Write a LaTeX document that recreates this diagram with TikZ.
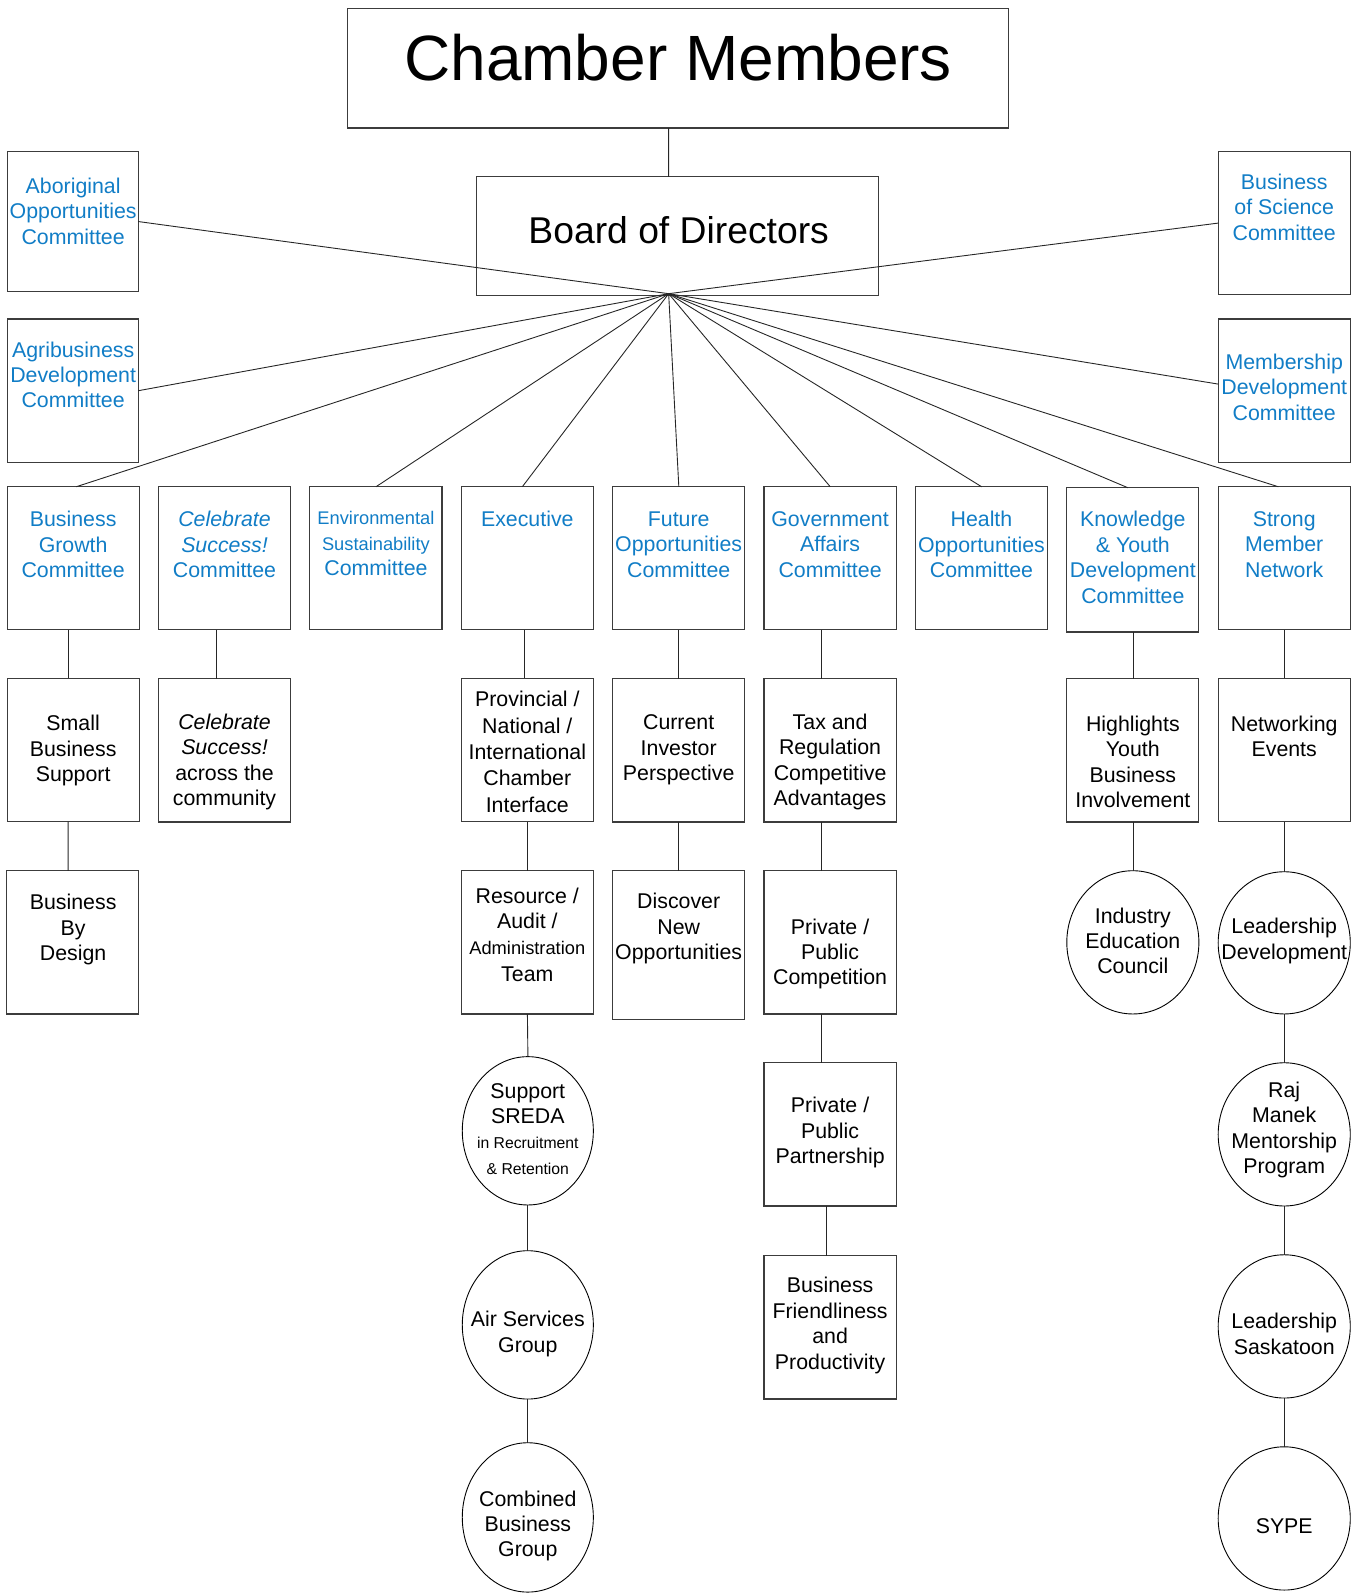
\documentclass[tikz,border=0pt]{standalone}
\usepackage{fontspec}
\setmainfont{Liberation Sans}
\usetikzlibrary{shapes.geometric}
\definecolor{cblue}{RGB}{17,125,198}
\definecolor{bord}{RGB}{60,60,60}
\tikzset{
 box/.style={draw=bord, line width=1.1pt, minimum width=130, minimum height=141, inner sep=0, outer sep=0},
 oval/.style={ellipse, draw=black, line width=0.9pt, minimum width=130, minimum height=141, inner sep=0, outer sep=0},
 lbl/.style={align=center, font=\fontsize{21}{25}\selectfont, inner sep=0},
 blbl/.style={lbl, text=cblue},
 conn/.style={draw=black!85, line width=0.9pt},
}
\begin{document}
\begin{tikzpicture}[x=1pt,y=-1pt,scale=1.016,every node/.append style={transform shape}]
\useasboundingbox (0,0) rectangle (1334.6,1568.9);
% top
\node[box, minimum width=651, minimum height=118] (chamber) at (667.5,67) {};
\node[lbl, font=\fontsize{63}{70}\selectfont] (tchamber) at (667.5,57) {Chamber Members};
\node[box, minimum width=396, minimum height=117] (board) at (667,232.5) {};
\node[lbl, font=\fontsize{36.7}{40}\selectfont] (tboard) at (668,227) {Board of Directors};
\coordinate (fan) at (658,289);
% side committees
\node[box, minimum width=129, minimum height=138] (abor) at (71.5,218) {};
\node[blbl] (tabor) at (72,208) {Aboriginal\\Opportunities\\Committee};
\node[box, minimum width=129] (agri) at (71.5,384.5) {};
\node[blbl] (tagri) at (72,369) {Agribusiness\\Development\\Committee};
\node[box] (bussci) at (1264,219.5) {};
\node[blbl] (tbussci) at (1264,204) {Business\\of Science\\Committee};
\node[box] (member) at (1264,384.5) {};
\node[blbl] (tmember) at (1264,381) {Membership\\Development\\Committee};
% row 1
\node[box] (bgrow) at (72,549.5) {};
\node[blbl] (tbgrow) at (72,536) {Business\\Growth\\Committee};
\node[box] (celeb) at (221,549.5) {};
\node[blbl] (tceleb) at (221,536) {\textit{Celebrate}\\\textit{Success!}\\Committee};
\node[box] (env) at (370,549.5) {};
\node[blbl] (tenv) at (370,535) {\fontsize{18}{24}\selectfont Environmental\\\fontsize{18}{24}\selectfont Sustainability\\\fontsize{21}{25}\selectfont Committee};
\node[box] (exec) at (519,549.5) {};
\node[blbl] (texec) at (519,511) {Executive};
\node[box] (fut) at (668,549.5) {};
\node[blbl] (tfut) at (668,536) {Future\\Opportunities\\Committee};
\node[box] (gov) at (817,549.5) {};
\node[blbl] (tgov) at (817,536) {Government\\Affairs\\Committee};
\node[box] (health) at (966,549.5) {};
\node[blbl] (thealth) at (966,536) {Health\\Opportunities\\Committee};
\node[box, minimum height=142] (know) at (1115,551) {};
\node[blbl] (tknow) at (1115,548.5) {Knowledge\\\& Youth\\Development\\Committee};
\node[box] (strong) at (1264,549.5) {};
\node[blbl] (tstrong) at (1264,536) {Strong\\Member\\Network};
% row 2
\node[box] (small) at (72,738) {};
\node[lbl] (tsmall) at (72,739) {Small\\Business\\Support};
\node[box] (celeb2) at (221,738.5) {};
\node[lbl] (tceleb2) at (221,750) {\textit{Celebrate}\\\textit{Success!}\\across the\\community};
\node[box] (prov) at (519,738) {};
\node[lbl, font=\fontsize{21}{26}\selectfont] (tprov) at (519,740) {Provincial /\\National /\\International\\Chamber\\Interface};
\node[box] (cur) at (668,738.5) {};
\node[lbl] (tcur) at (668,738) {Current\\Investor\\Perspective};
\node[box] (tax) at (817,738.5) {};
\node[lbl] (ttax) at (817,750) {Tax and\\Regulation\\Competitive\\Advantages};
\node[box] (high) at (1115,738.5) {};
\node[lbl] (thigh) at (1115,750) {Highlights\\Youth\\Business\\Involvement};
\node[box] (net) at (1264,738) {};
\node[lbl] (tnet) at (1264,725) {Networking\\Events};
% row 3
\node[box] (bbd) at (71.5,927.5) {};
\node[lbl] (tbbd) at (72,915) {Business\\By\\Design};
\node[box] (res) at (519,927.5) {};
\node[lbl] (tres) at (519,920) {Resource /\\Audit /\\\fontsize{18}{25}\selectfont Administration\\[2pt]Team};
\node[box, minimum height=146] (disc) at (668,930) {};
\node[lbl] (tdisc) at (668,914) {Discover\\New\\Opportunities};
\node[box] (comp) at (817,927.5) {};
\node[lbl] (tcomp) at (817,939) {Private /\\Public\\Competition};
\node[oval] (ind) at (1115,927.5) {};
\node[lbl] (tind) at (1115,926) {Industry\\Education\\Council};
\node[oval, minimum height=140] (ld) at (1264,928) {};
\node[lbl] (tld) at (1264,926) {Leadership\\Development};
% row 4
\node[oval, minimum width=129, minimum height=146] (sreda) at (519.5,1113) {};
\node[lbl] (tsreda) at (519.5,1111) {Support\\SREDA\\\fontsize{15.5}{26}\selectfont in Recruitment\\\fontsize{15.5}{26}\selectfont \& Retention};
\node[box] (part) at (817,1116.5) {};
\node[lbl] (tpart) at (817,1115) {Private /\\Public\\Partnership};
\node[oval] (raj) at (1264,1116.5) {};
\node[lbl] (traj) at (1264,1112) {Raj\\Manek\\Mentorship\\Program};
% row 5
\node[oval, minimum width=129, minimum height=146] (air) at (519.5,1304) {};
\node[lbl] (tair) at (519.5,1313) {Air Services\\Group};
\node[box] (friend) at (817,1306.5) {};
\node[lbl] (tfriend) at (817,1304.5) {Business\\Friendliness\\and\\Productivity};
\node[oval] (ls) at (1264,1305.5) {};
\node[lbl] (tls) at (1264,1313) {Leadership\\Saskatoon};
% row 6
\node[oval, minimum width=129, minimum height=147] (comb) at (519.5,1493.5) {};
\node[lbl] (tcomb) at (519.5,1502) {Combined\\Business\\Group};
\node[oval] (sype) at (1264,1494.5) {};
\node[lbl] (tsype) at (1264,1502) {SYPE};
% connectors
\draw[conn] ([xshift=-9.5]chamber.south) -- ([xshift=-9]board.north);
\draw[conn] (abor.east) -- (fan);
\draw[conn] (agri.east) -- (fan);
\draw[conn] (bussci.west) -- (fan);
\draw[conn] ([yshift=6.5]member.west) -- (fan);
\draw[conn] ([xshift=3]bgrow.north) -- (fan);
\draw[conn] (env.north) -- (fan);
\draw[conn] ([xshift=-5]exec.north) -- (fan);
\draw[conn] (fut.north) -- (fan);
\draw[conn] (gov.north) -- (fan);
\draw[conn] (health.north) -- (fan);
\draw[conn] ([xshift=-5]know.north) -- (fan);
\draw[conn] ([xshift=-6]strong.north) -- (fan);
\draw[conn] ([xshift=-5]bgrow.south) -- ([xshift=-5]small.north);
\draw[conn] ([xshift=-5]small.south) -- ([xshift=-4.5]bbd.north);
\draw[conn] ([xshift=-8]celeb.south) -- ([xshift=-8]celeb2.north);
\draw[conn] ([xshift=-3]exec.south) -- ([xshift=-3]prov.north);
\draw[conn] (prov.south) -- (res.north);
\draw[conn] (res.south) -- (sreda.north);
\draw[conn] (sreda.south) -- (air.north);
\draw[conn] (air.south) -- (comb.north);
\draw[conn] (fut.south) -- (cur.north);
\draw[conn] (cur.south) -- (disc.north);
\draw[conn] ([xshift=-9]gov.south) -- ([xshift=-9]tax.north);
\draw[conn] ([xshift=-9]tax.south) -- ([xshift=-9]comp.north);
\draw[conn] ([xshift=-9]comp.south) -- ([xshift=-9]part.north);
\draw[conn] ([xshift=-4]part.south) -- ([xshift=-4]friend.north);
\draw[conn] (know.south) -- (high.north);
\draw[conn] (high.south) -- (ind.north);
\draw[conn] (strong.south) -- (net.north);
\draw[conn] (net.south) -- (ld.north);
\draw[conn] (ld.south) -- (raj.north);
\draw[conn] (raj.south) -- (ls.north);
\draw[conn] (ls.south) -- (sype.north);
\end{tikzpicture}
\end{document}
